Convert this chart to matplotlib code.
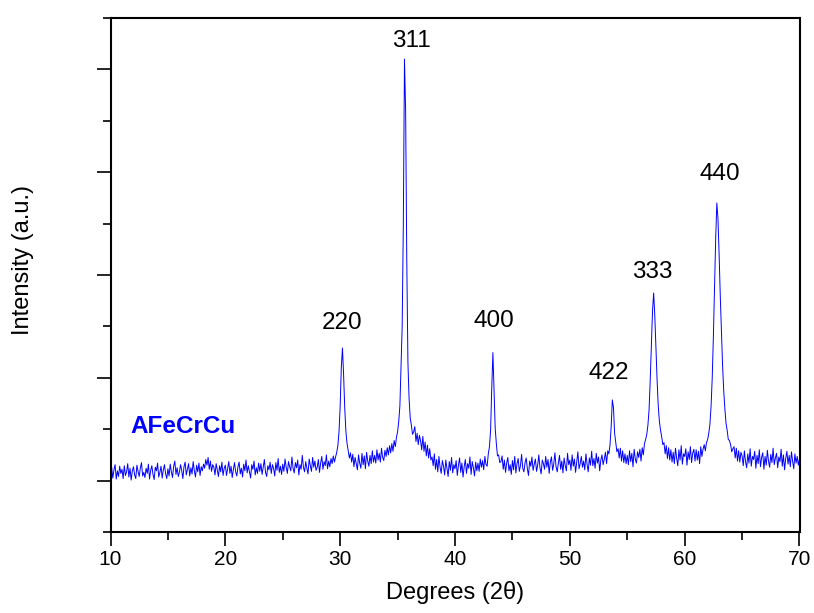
import numpy as np
import matplotlib
matplotlib.use("Agg")
import matplotlib.pyplot as plt
from matplotlib.ticker import MultipleLocator, NullFormatter

plt.rcParams['font.family'] = ['Liberation Sans', 'DejaVu Sans']

# ---- data ----
two_theta_start = 10.0
two_theta_step = 0.1
intensity = [
    0.12, 0.26, 0.05, 0.21, 0.31, 0.03, 0.19, 0.08, 0.28, 0.14,  # 10
    0.22, 0.04, 0.29, 0.10, 0.17, 0.33, 0.07, 0.24, 0.01, 0.19,  # 11
    0.27, 0.11, 0.04, 0.30, 0.18, 0.08, 0.25, 0.35, 0.09, 0.16,  # 12
    0.06, 0.24, 0.14, 0.32, 0.03, 0.20, 0.29, 0.12, 0.02, 0.26,  # 13
    0.19, 0.34, 0.07, 0.16, 0.28, 0.05, 0.21, 0.31, 0.13, 0.04,  # 14
    0.23, 0.09, 0.32, 0.17, 0.06, 0.28, 0.38, 0.12, 0.25, 0.08,  # 15
    0.16, 0.31, 0.20, 0.04, 0.27, 0.36, 0.11, 0.22, 0.33, 0.09,  # 16
    0.25, 0.13, 0.37, 0.19, 0.07, 0.30, 0.17, 0.34, 0.10, 0.27,  # 17
    0.19, 0.32, 0.24, 0.41, 0.30, 0.45, 0.22, 0.38, 0.18, 0.31,  # 18
    0.26, 0.11, 0.33, 0.20, 0.08, 0.29, 0.17, 0.36, 0.10, 0.24,  # 19
    0.30, 0.10, 0.23, 0.37, 0.14, 0.28, 0.06, 0.22, 0.35, 0.17,  # 20
    0.09, 0.27, 0.36, 0.13, 0.24, 0.07, 0.32, 0.19, 0.40, 0.15,  # 21
    0.29, 0.17, 0.05, 0.31, 0.22, 0.38, 0.11, 0.25, 0.14, 0.34,  # 22
    0.18, 0.33, 0.12, 0.26, 0.41, 0.16, 0.08, 0.29, 0.21, 0.36,  # 23
    0.14, 0.31, 0.24, 0.09, 0.35, 0.20, 0.43, 0.16, 0.28, 0.12,  # 24
    0.32, 0.18, 0.42, 0.26, 0.14, 0.37, 0.27, 0.19, 0.46, 0.24,  # 25
    0.15, 0.35, 0.25, 0.40, 0.11, 0.31, 0.22, 0.49, 0.26, 0.17,  # 26
    0.37, 0.24, 0.13, 0.42, 0.29, 0.18, 0.45, 0.26, 0.38, 0.20,  # 27
    0.26, 0.41, 0.16, 0.34, 0.47, 0.22, 0.37, 0.29, 0.50, 0.23,  # 28
    0.38, 0.27, 0.43, 0.33, 0.48, 0.36, 0.46, 0.55, 0.68, 0.95,  # 29
    1.45, 2.20, 2.58, 2.05, 1.40, 0.95, 0.72, 0.58, 0.44, 0.54,  # 30
    0.36, 0.51, 0.27, 0.45, 0.33, 0.21, 0.50, 0.34, 0.24, 0.53,  # 31
    0.31, 0.48, 0.23, 0.55, 0.38, 0.28, 0.49, 0.33, 0.58, 0.36,  # 32
    0.49, 0.34, 0.60, 0.40, 0.53, 0.36, 0.63, 0.45, 0.39, 0.59,  # 33
    0.47, 0.64, 0.50, 0.68, 0.54, 0.72, 0.57, 0.78, 0.66, 0.84,  # 34
    0.95, 1.15, 1.45, 2.20, 3.00, 5.00, 8.20, 7.20, 4.30, 2.30,  # 35
    1.60, 1.22, 1.08, 0.90, 0.95, 1.05, 0.76, 0.92, 0.70, 0.88,  # 36
    0.78, 0.60, 0.86, 0.57, 0.75, 0.48, 0.69, 0.44, 0.62, 0.40,  # 37
    0.46, 0.29, 0.52, 0.22, 0.41, 0.17, 0.47, 0.26, 0.14, 0.39,  # 38
    0.28, 0.11, 0.40, 0.24, 0.08, 0.37, 0.20, 0.45, 0.15, 0.31,  # 39
    0.23, 0.39, 0.10, 0.30, 0.44, 0.16, 0.34, 0.07, 0.27, 0.41,  # 40
    0.14, 0.33, 0.24, 0.46, 0.12, 0.37, 0.25, 0.09, 0.36, 0.19,  # 41
    0.34, 0.18, 0.42, 0.26, 0.39, 0.21, 0.47, 0.31, 0.28, 0.52,  # 42
    0.66, 0.98, 1.80, 2.49, 1.75, 1.02, 0.72, 0.48, 0.50, 0.35,  # 43
    0.37, 0.48, 0.22, 0.40, 0.16, 0.34, 0.45, 0.19, 0.31, 0.12,  # 44
    0.39, 0.21, 0.47, 0.15, 0.33, 0.43, 0.18, 0.29, 0.51, 0.24,  # 45
    0.17, 0.35, 0.44, 0.23, 0.10, 0.38, 0.28, 0.46, 0.20, 0.32,  # 46
    0.42, 0.18, 0.30, 0.50, 0.25, 0.13, 0.40, 0.33, 0.22, 0.47,  # 47
    0.26, 0.41, 0.14, 0.36, 0.46, 0.20, 0.32, 0.54, 0.27, 0.17,  # 48
    0.34, 0.49, 0.22, 0.38, 0.15, 0.44, 0.29, 0.19, 0.53, 0.31,  # 49
    0.40, 0.20, 0.50, 0.28, 0.42, 0.16, 0.36, 0.56, 0.23, 0.33,  # 50
    0.47, 0.26, 0.38, 0.21, 0.52, 0.32, 0.17, 0.44, 0.30, 0.57,  # 51
    0.29, 0.43, 0.24, 0.53, 0.34, 0.46, 0.19, 0.40, 0.50, 0.31,  # 52
    0.42, 0.55, 0.33, 0.58, 0.52, 0.70, 1.05, 1.57, 1.42, 0.92,  # 53
    0.74, 0.56, 0.62, 0.44, 0.63, 0.38, 0.58, 0.35, 0.52, 0.33,  # 54
    0.49, 0.31, 0.58, 0.37, 0.53, 0.27, 0.61, 0.42, 0.34, 0.56,  # 55
    0.45, 0.61, 0.38, 0.64, 0.50, 0.72, 0.80, 0.90, 1.08, 1.38,  # 56
    1.95, 2.65, 3.30, 3.65, 3.20, 2.55, 1.95, 1.45, 1.15, 0.98,  # 57
    0.85, 0.70, 0.74, 0.52, 0.68, 0.43, 0.64, 0.40, 0.60, 0.36,  # 58
    0.55, 0.33, 0.63, 0.44, 0.29, 0.60, 0.40, 0.68, 0.32, 0.52,  # 59
    0.47, 0.62, 0.30, 0.56, 0.41, 0.66, 0.35, 0.53, 0.61, 0.38,  # 60
    0.60, 0.40, 0.57, 0.33, 0.66, 0.47, 0.61, 0.70, 0.58, 0.74,  # 61
    0.80, 0.92, 1.10, 1.45, 2.00, 2.80, 3.75, 4.70, 5.40, 5.10,  # 62
    4.40, 3.60, 2.90, 2.25, 1.75, 1.40, 1.12, 0.98, 0.80, 0.78,  # 63
    0.70, 0.56, 0.62, 0.66, 0.44, 0.63, 0.38, 0.58, 0.36, 0.55,  # 64
    0.48, 0.29, 0.58, 0.37, 0.25, 0.52, 0.34, 0.62, 0.28, 0.47,  # 65
    0.41, 0.57, 0.24, 0.49, 0.33, 0.60, 0.27, 0.45, 0.54, 0.22,  # 66
    0.47, 0.30, 0.59, 0.38, 0.26, 0.51, 0.35, 0.63, 0.31, 0.44,  # 67
    0.53, 0.25, 0.46, 0.37, 0.61, 0.28, 0.50, 0.21, 0.43, 0.57,  # 68
    0.32, 0.49, 0.27, 0.56, 0.38, 0.23, 0.52, 0.34, 0.47, 0.30,  # 69
    0.42,                                                        # 70
]

peak_labels = ["220", "311", "400", "422", "333", "440"]
peak_label_x = [30.15, 36.24, 43.38, 53.39, 57.21, 63.05]
peak_label_y = [3.07, 8.56, 3.11, 2.10, 4.06, 5.96]

sample_name = "AFeCrCu"

x_ticks = [10, 20, 30, 40, 50, 60, 70]

# ---- figure ----
fig = plt.figure(figsize=(8.14, 6.13), dpi=100)
ax = fig.add_axes([110.5 / 814, 1 - 532 / 613, 689 / 814, 514 / 613])

two_theta = two_theta_start + two_theta_step * np.arange(len(intensity))
ax.plot(two_theta, intensity, color="#0000FF", lw=0.7)

for lab, lx, ly in zip(peak_labels, peak_label_x, peak_label_y):
    ax.text(lx, ly, lab, ha="center", va="center", fontsize=17.5, color="black")

ax.text(11.7, 1.05, sample_name, ha="left", va="center", fontsize=17.5,
        fontweight="bold", color="#0000FF")

ax.set_xlim(10, 70)
ax.set_ylim(-1, 9)
ax.set_xticks(x_ticks)
ax.xaxis.set_minor_locator(MultipleLocator(5))
ax.yaxis.set_major_locator(MultipleLocator(2))
ax.yaxis.set_minor_locator(MultipleLocator(1))
ax.yaxis.set_major_formatter(NullFormatter())

ax.tick_params(axis="both", which="major", direction="out", length=10, width=1.2,
               labelsize=15, pad=3)
ax.tick_params(axis="both", which="minor", direction="out", length=5.5, width=1.2)
ax.tick_params(top=False, right=False, which="both")

for sp in ax.spines.values():
    sp.set_linewidth(1.5)
    sp.set_color("black")

ax.set_xlabel("Degrees (2θ)", fontsize=17)
ax.set_ylabel("Intensity (a.u.)", fontsize=17)
ax.xaxis.set_label_coords(0.5, -0.095)
ax.yaxis.set_label_coords(-0.111, 0.529)

fig.savefig("out.png", dpi=100)
